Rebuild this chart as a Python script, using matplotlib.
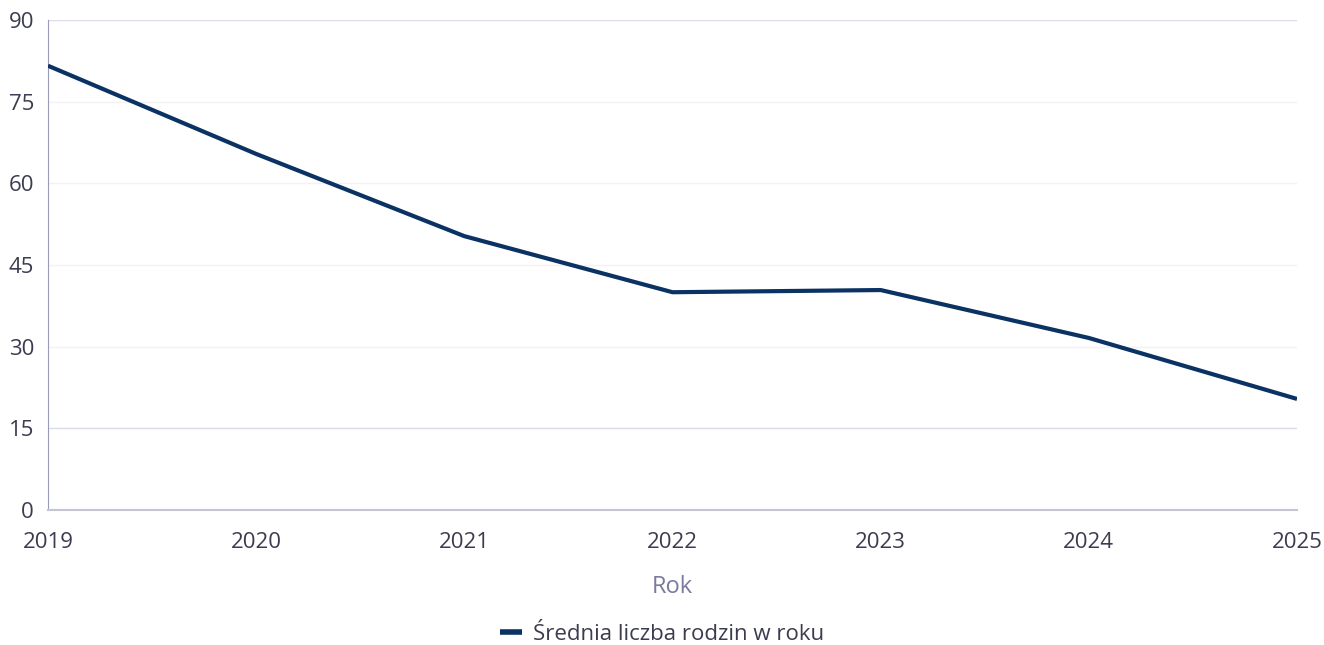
import matplotlib
matplotlib.use('Agg')
import matplotlib.pyplot as plt

years = [2019, 2020, 2021, 2022, 2023, 2024, 2025]
families = [81.6, 65.4, 50.3, 40.0, 40.4, 31.6, 20.4]
y_ticks = [0, 15, 30, 45, 60, 75, 90]

plt.rcParams['font.family'] = ['Open Sans', 'DejaVu Sans']

W, H = 1324, 645
fig = plt.figure(figsize=(W / 100, H / 100), dpi=100)
ax = fig.add_axes([48 / W, (H - 510) / H, (1297 - 48) / W, 490 / H])

# horizontal grid lines, some fainter than others
for v in y_ticks[1:]:
    col = '#dcdce8' if v in (15, 90) else '#f2f2f6'
    ax.axhline(v, color=col, lw=1, zorder=0)

ax.plot(years, families, color='#0a3263', lw=3, solid_capstyle='butt',
        label='Średnia liczba rodzin w roku', zorder=3)

ax.set_xlim(2019, 2025)
ax.set_ylim(0, 90)
ax.set_xticks(years)
ax.set_yticks(y_ticks)
ax.tick_params(length=0, labelsize=16, colors='#3c3c50')
ax.tick_params(axis='x', pad=16)
ax.tick_params(axis='y', pad=10)
for s in ['top', 'right']:
    ax.spines[s].set_visible(False)
ax.spines['left'].set_color('#9a9abc')
ax.spines['bottom'].set_color('#c4c4d4')
ax.spines['bottom'].set_linewidth(1.5)

ax.set_xlabel('Rok', fontsize=17, color='#7a7a9e', labelpad=16)

leg = fig.legend(loc='center', bbox_to_anchor=(0.5, 1 - 634 / H), frameon=False,
                 fontsize=16, labelcolor='#3c3c50', handlelength=1.0,
                 handletextpad=0.5)
for h in leg.get_lines():
    h.set_linewidth(4)

fig.savefig('out.png', dpi=100)
